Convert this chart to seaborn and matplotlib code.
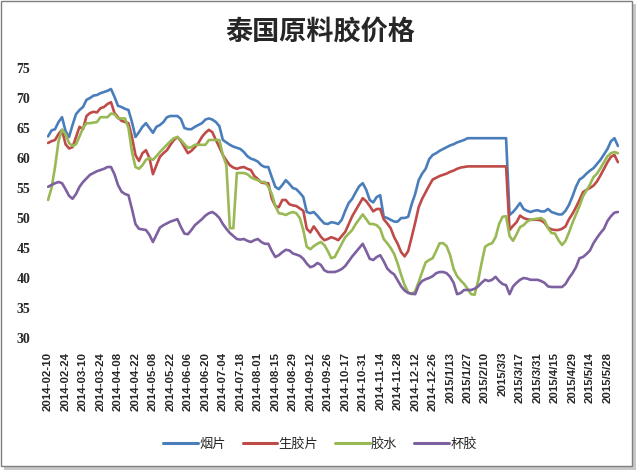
import numpy as np
import pandas as pd
import matplotlib.pyplot as plt
import seaborn as sns
from matplotlib.patches import Rectangle

# tick labels every 5th sample (one sample = 2 trading days)
tick_labels = ['2014-02-10', '2014-02-24', '2014-03-10', '2014-03-24', '2014-04-08',
               '2014-04-22', '2014-05-08', '2014-05-22', '2014-06-06', '2014-06-20',
               '2014-07-04', '2014-07-18', '2014-08-01', '2014-08-15', '2014-08-29',
               '2014-09-12', '2014-09-26', '2014-10-17', '2014-10-31', '2014-11-14',
               '2014-11-28', '2014-12-12', '2014-12-26', '2015/1/13', '2015/1/27',
               '2015/2/10', '2015/3/3', '2015/3/17', '2015/3/31', '2015/4/15',
               '2015/4/29', '2015/5/14', '2015/5/28']

series_names = ['烟片', '生胶片', '胶水', '杯胶']
colors = ['#4A7EBB', '#BE4B48', '#98B954', '#7D60A0']

yanpian = [63.6, 64.6, 64.8, 66, 66.8, 64.5, 63.5, 65.5, 67.3, 68,
           68.5, 69.7, 70, 70.4, 70.5, 70.8, 71, 71.2, 71.5, 70.2,
           68.7, 68.5, 68.2, 68, 66, 63.5, 64.3, 65.2, 65.8, 65,
           64.2, 65.2, 65.5, 66, 66.8, 67, 67, 67, 66.5, 65,
           64.8, 64.8, 65.2, 65.5, 65.8, 66.4, 66.6, 66.4, 66, 65.3,
           63, 62.6, 62.2, 61.9, 61.7, 61.5, 61, 60.3, 59.9, 59.7,
           59.4, 58.8, 58.5, 58.5, 56.8, 55.2, 54.8, 55.5, 56.3, 55.7,
           55, 54.8, 54.2, 53.5, 51, 50.8, 51, 50.4, 49.7, 49.1,
           49, 49.3, 49.2, 49, 49.7, 51.2, 52.5, 53.2, 54.3, 55.3,
           55.8, 54.7, 53, 52.6, 53.5, 53.8, 50.2, 50, 49.7, 49.4,
           49.4, 50, 50, 50.2, 52.3, 54, 56.3, 57.4, 58.2, 59.8,
           60.5, 60.8, 61.2, 61.5, 61.8, 62.1, 62.3, 62.6, 62.8, 63,
           63.3, 63.3, 63.3, 63.3, 63.3, 63.3, 63.3, 63.3, 63.3, 63.3,
           63.3, 63.3, 50.5, 51, 51.7, 52.5, 51.5, 51.2, 51, 51.2,
           51.3, 51.1, 51.1, 51.5, 51, 50.8, 50.6, 50.6, 51.2, 52.2,
           53.6, 55.2, 56.4, 56.8, 57.4, 57.9, 58.3, 59, 59.7, 60.6,
           61.5, 62.8, 63.3, 62]

shengjiaopian = [62.5, 62.8, 63, 64, 64.7, 62.3, 61.6, 61.8, 63.5, 65.2,
                 64.8, 67, 67.5, 67.7, 67.6, 68.3, 68.5, 69, 69.3, 67.5,
                 66.8, 66.2, 66, 65.8, 63.5, 60.5, 59.5, 60.8, 61.3, 60,
                 57.3, 58.8, 60.2, 60.8, 61.3, 62.2, 63, 63.5, 62.8, 61.8,
                 60.8, 61.2, 61.8, 62.5, 63.5, 64.2, 64.7, 64.3, 63, 61.8,
                 60.5, 59.6, 58.8, 58.4, 58.2, 58.4, 58.5, 58.2, 58, 57,
                 56.5, 55.9, 55.8, 55.8, 53.2, 52, 51.8, 53, 53, 52.3,
                 52.1, 52, 51.6, 51.2, 48.2, 47.6, 48.6, 47.8, 46.9, 46.3,
                 46.5, 46.8, 46.6, 46.3, 47, 47.7, 49, 50.3, 51.3, 52.3,
                 53.3, 52.8, 52, 51.1, 51.5, 51.5, 49.8, 49.1, 48.3, 46.8,
                 45.7, 44.3, 43.6, 44.5, 46.8, 49.2, 51.8, 53.2, 54.3, 55.4,
                 56.4, 56.7, 57, 57.2, 57.4, 57.7, 57.9, 58.2, 58.4, 58.5,
                 58.6, 58.6, 58.6, 58.6, 58.6, 58.6, 58.6, 58.6, 58.6, 58.6,
                 58.6, 58.6, 48, 48.7, 49.3, 50.4, 50, 49.8, 49.7, 49.7,
                 49.7, 49.6, 49.2, 48.4, 48.1, 48, 48, 48.2, 48.6, 49.8,
                 50.7, 51.8, 53, 54.3, 54.7, 55, 55.4, 56.1, 57.1, 58.2,
                 59.3, 60.2, 60.5, 59.3]

jiaoshui = [53, 55, 58.5, 62.8, 64.7, 64, 62.5, 62, 62.3, 63.6,
            65, 65.8, 65.8, 65.9, 66, 66.8, 66.8, 66.8, 67.4, 67.3,
            66.6, 66.6, 66.6, 65, 61, 58.5, 58.2, 58.8, 59.7, 60,
            59.7, 60.3, 61, 61.6, 62.2, 62.8, 63.3, 63.5, 63, 62.3,
            61.7, 61.8, 62.2, 62.2, 62.2, 62.2, 63, 63, 63, 63,
            60.5, 58.8, 48.3, 48.3, 57.5, 57.5, 57.5, 57.3, 56.8, 56.5,
            56.3, 56, 56, 55.2, 54, 52, 50.8, 50.7, 50.5, 50.8,
            51, 50.8, 50, 48, 45.2, 44.8, 45.3, 45.7, 46, 45.5,
            44.5, 43.3, 43.5, 44.6, 45.7, 46.8, 47.4, 48, 49, 49.8,
            50.6, 49.8, 49, 49, 48.8, 48.2, 46.5, 45.8, 45, 44,
            42.4, 40.5, 38.8, 37.6, 37.3, 37.8, 39.3, 41, 42.6, 43,
            43.3, 44.5, 45.8, 45.8, 45.3, 43.8, 41.5, 40.3, 39.6, 39,
            38.2, 37.3, 37.2, 39.5, 42.5, 45.2, 45.6, 45.8, 46.8, 49,
            50.2, 50.3, 47, 46.2, 47.3, 48.5, 48.8, 49.4, 49.7, 49.8,
            49.9, 50, 49.6, 48.3, 47.5, 47.4, 46.3, 45.5, 46.2, 47.6,
            49.2, 50.6, 52, 53.6, 54.6, 55.6, 56.8, 57.4, 58.3, 59.3,
            60.3, 60.8, 61, 60.8]

beijiao = [55.2, 55.5, 55.8, 56, 55.8, 54.8, 53.7, 53.2, 54, 55.2,
           56, 56.6, 57.2, 57.5, 57.8, 58, 58.2, 58.5, 58.5, 57.3,
           55.5, 54.4, 54, 53.8, 51.5, 49, 48.2, 48.1, 48, 47.2,
           46, 47.2, 48.4, 48.8, 49.1, 49.4, 49.6, 49.8, 48.5, 47.4,
           47.3, 48, 48.8, 49.3, 49.8, 50.4, 50.8, 51, 50.6, 50,
           49, 48.2, 47.5, 47, 46.5, 46.4, 46.5, 46.2, 46, 46.3,
           46.5, 46, 45.7, 45.7, 44.5, 43.5, 43.8, 44.3, 44.7, 44.6,
           44.1, 43.9, 43.7, 43.2, 42.4, 41.8, 42, 42.5, 42.2, 41.3,
           41, 41, 41, 41.2, 41.5, 42, 42.8, 43.6, 44.3, 45,
           45.7, 44.5, 43.2, 43, 43.5, 43.8, 42.8, 41.6, 41, 40.6,
           39.6, 38.6, 37.9, 37.5, 37.4, 37.3, 38.8, 39.5, 39.8, 40,
           40.3, 40.8, 41, 41, 40.8, 40.2, 39.2, 37.3, 37.5, 38,
           38, 38, 38.2, 38.6, 39.2, 39.7, 39.5, 39.7, 40.2, 39.5,
           39, 38.8, 37.3, 38.6, 39.2, 39.7, 40, 39.9, 39.7, 39.7,
           39.7, 39.5, 39.2, 38.6, 38.5, 38.5, 38.5, 38.5, 39, 40,
           40.8, 41.8, 43.3, 43.5, 44, 44.6, 45.8, 46.7, 47.5, 48.2,
           49.5, 50.3, 50.9, 51]

sns.set_style('white')
plt.rcParams['font.family'] = ['Noto Sans CJK SC', 'DejaVu Sans']

frames = []
for name, vals in zip(series_names, [yanpian, shengjiaopian, jiaoshui, beijiao]):
    frames.append(pd.DataFrame({'idx': np.arange(len(vals)), 'price': vals, 'kind': name}))
df = pd.concat(frames, ignore_index=True)

fig = plt.figure(figsize=(6.4, 4.72), dpi=100)
ax = fig.add_axes([47 / 640, 1 - 338 / 472, 572 / 640, 270 / 472])

sns.lineplot(data=df, x='idx', y='price', hue='kind', hue_order=series_names,
             palette=colors, linewidth=1.9, ax=ax, legend=False)

ax.set_xlim(-0.3, len(yanpian) - 0.7)
ax.set_ylim(30, 75)
ax.set_yticks(range(30, 80, 5))
ax.set_yticklabels([str(v) for v in range(30, 80, 5)],
                   family='Liberation Serif', fontweight='bold', fontsize=10)
ax.set_xticks(range(0, 5 * len(tick_labels), 5))
ax.set_xticklabels(tick_labels, rotation=90, family='Liberation Sans',
                   fontweight='bold', fontsize=8.2)
ax.tick_params(axis='both', length=0)
ax.tick_params(axis='x', pad=10)
ax.tick_params(axis='y', pad=12)
ax.set_xlabel('')
ax.set_ylabel('')
for sp in ax.spines.values():
    sp.set_visible(False)

fig.text(0.5, 1 - 32 / 472, '泰国原料胶价格', ha='center', va='center',
         fontsize=19.5, fontweight='bold')

handles = [plt.Line2D([], [], color=c, lw=2.2) for c in colors]
fig.legend(handles, series_names, loc='center', bbox_to_anchor=(0.5, 1 - 444 / 472),
           ncol=4, frameon=False, fontsize=9.5, handlelength=2.6,
           handletextpad=0.1, columnspacing=1.3)

# chart border with a small shadow
fig.patches.append(Rectangle((4 / 640, 2 / 472), 632 / 640, 466 / 472,
                             transform=fig.transFigure, facecolor='#c8c8c8',
                             edgecolor='none', zorder=-2))
fig.patches.append(Rectangle((1 / 640, 6 / 472), 631 / 640, 465 / 472,
                             transform=fig.transFigure, facecolor='white',
                             edgecolor='#7f7f7f', lw=1, zorder=-1))

fig.savefig('out.png', dpi=100)
